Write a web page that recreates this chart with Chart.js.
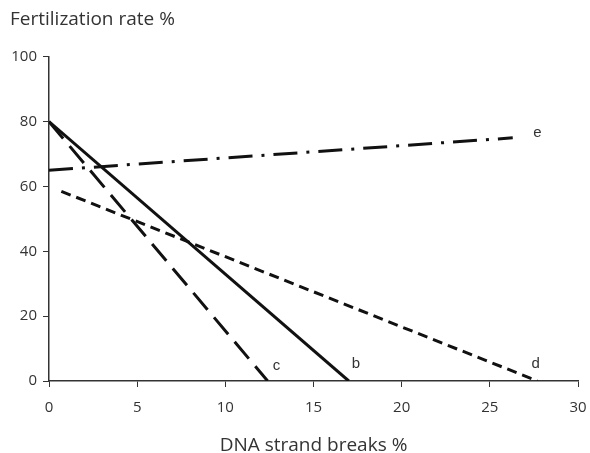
<!DOCTYPE html>
<html>
<head>
<meta charset="utf-8">
<script src="https://cdn.jsdelivr.net/npm/chart.js@4"></script>
<style>
  html, body { margin: 0; padding: 0; background: #fff; }
  #wrap { width: 590px; height: 453px; }
</style>
</head>
<body>
<div id="wrap"><canvas id="lineChart" width="590" height="453"></canvas></div>
<script>
// values (x = DNA strand breaks %, y = fertilization rate %)
const lineNames = ['b', 'c', 'd', 'e'];
const lineX = [
  [0, 17.0],
  [0, 12.4],
  [0.7, 27.7],
  [0, 26.3]
];
const lineY = [
  [80, 0],
  [80, 0],
  [58.5, 0],
  [65, 75]
];
const labelX = [17.4, 12.9, 27.6, 27.7];
const labelY = [5.4, 4.6, 5.2, 76.4];
const xTicks = [0, 5, 10, 15, 20, 25, 30];
const yTicks = [0, 20, 40, 60, 80, 100];

const dashes = [[], [22, 10], [10, 6], [24, 9, 3, 9]];

const datasets = lineNames.map((name, i) => ({
  label: name,
  data: lineX[i].map((x, j) => ({ x: x, y: lineY[i][j] })),
  borderColor: '#111',
  borderWidth: 3,
  borderDash: dashes[i],
  pointRadius: 0,
  fill: false
}));

const lineLabels = {
  id: 'lineLabels',
  afterDatasetsDraw(chart) {
    const ctx = chart.ctx;
    const xs = chart.scales.x, ys = chart.scales.y;
    ctx.save();
    ctx.fillStyle = '#333';
    ctx.font = '15px "Liberation Sans"';
    ctx.textAlign = 'center';
    ctx.textBaseline = 'middle';
    lineNames.forEach((name, i) => {
      ctx.fillText(name, xs.getPixelForValue(labelX[i]), ys.getPixelForValue(labelY[i]));
    });
    ctx.restore();
  }
};

const tickFont = { family: '"Open Sans"', size: 15 };

new Chart(document.getElementById('lineChart').getContext('2d'), {
  type: 'line',
  data: { datasets: datasets },
  plugins: [lineLabels],
  options: {
    responsive: false,
    animation: false,
    layout: { padding: { left: 10, right: 12, top: 0, bottom: 0 } },
    plugins: {
      legend: { display: false },
      tooltip: { enabled: false },
      title: {
        display: true,
        text: 'Fertilization rate %',
        align: 'start',
        color: '#333',
        font: { family: '"Open Sans"', size: 19, weight: 'normal' },
        padding: { top: 8, bottom: 26 }
      }
    },
    scales: {
      x: {
        type: 'linear',
        min: 0,
        max: 30,
        afterBuildTicks: (scale) => { scale.ticks = xTicks.map(v => ({ value: v })); },
        afterFit: (scale) => {
          scale.height = 72;
          scale.paddingLeft = 0;
          scale.paddingRight = 0;
        },
        grid: { display: true, drawOnChartArea: false, drawTicks: true, tickLength: 6, color: '#333' },
        border: { color: '#333', width: 1.5 },
        ticks: { color: '#333', font: tickFont, padding: 12, maxRotation: 0 },
        title: {
          display: true,
          text: 'DNA strand breaks %',
          color: '#333',
          font: { family: '"Open Sans"', size: 19, lineHeight: 1 },
          padding: { top: 0, bottom: -2 }
        }
      },
      y: {
        min: 0,
        max: 100,
        afterBuildTicks: (scale) => { scale.ticks = yTicks.map(v => ({ value: v })); },
        afterFit: (scale) => {
          scale.width = 39;
          scale.paddingTop = 0;
          scale.paddingBottom = 0;
        },
        grid: { display: true, drawOnChartArea: false, drawTicks: true, tickLength: 6, color: '#333' },
        border: { color: '#333', width: 1.5 },
        ticks: { color: '#333', font: tickFont, padding: 6 }
      }
    }
  }
});
</script>
</body>
</html>
